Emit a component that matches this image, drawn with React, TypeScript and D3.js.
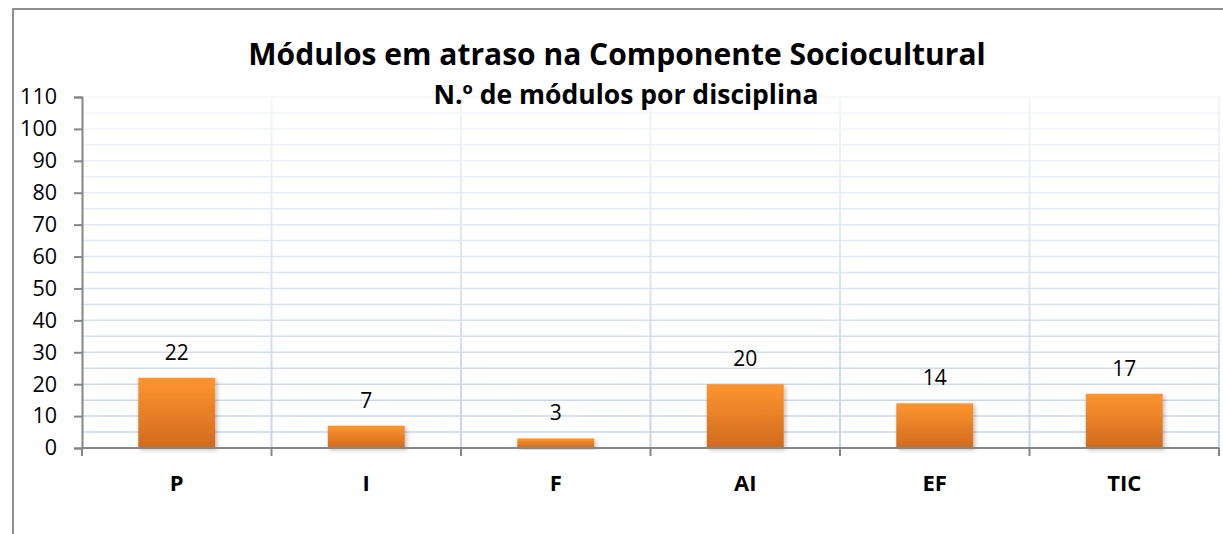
import * as d3 from "d3";
import React, { useEffect, useRef } from "react";

const categories = ["P", "I", "F", "AI", "EF", "TIC"];
const values = [22, 7, 3, 20, 14, 17];
const yTicks = [0, 10, 20, 30, 40, 50, 60, 70, 80, 90, 100, 110];
const minorTicks = [5, 15, 25, 35, 45, 55, 65, 75, 85, 95, 105];

const title = "Módulos em atraso na Componente Sociocultural";
const subtitle = "N.º de módulos por disciplina";

const width = 1223;
const height = 534;
const font = "'Open Sans', Lato, sans-serif";

const App = () => {
  const ref = useRef<HTMLDivElement>(null);

  useEffect(() => {
    const xScale = d3
      .scaleBand<string>()
      .domain(categories)
      .range([82, 1219])
      .paddingInner(0.594)
      .paddingOuter(0.297);
    const yScale = d3.scaleLinear().domain([0, 110]).range([448, 97]);
    const step = xScale.step();
    const left = 82;

    const svg = d3
      .create("svg")
      .attr("width", width)
      .attr("height", height)
      .attr("viewBox", `0 0 ${width} ${height}`)
      .style("position", "absolute")
      .style("left", "0px")
      .style("top", "0px")
      .style("background", "#fff");

    const defs = svg.append("defs");

    // gridlines fade out towards the top
    const gridGrad = defs
      .append("linearGradient")
      .attr("id", "gridGrad")
      .attr("gradientUnits", "userSpaceOnUse")
      .attr("x1", 0)
      .attr("y1", yScale(110))
      .attr("x2", 0)
      .attr("y2", yScale(0));
    gridGrad.append("stop").attr("offset", "0%").attr("stop-color", "#f3f6fb");
    gridGrad.append("stop").attr("offset", "100%").attr("stop-color", "#c4d4ea");

    const barGrad = defs
      .append("linearGradient")
      .attr("id", "barGrad")
      .attr("x1", 0)
      .attr("y1", 0)
      .attr("x2", 0)
      .attr("y2", 1);
    barGrad.append("stop").attr("offset", "0%").attr("stop-color", "#ff9530");
    barGrad.append("stop").attr("offset", "100%").attr("stop-color", "#d06a1e");

    const shadow = defs
      .append("filter")
      .attr("id", "barShadow")
      .attr("x", "-20%")
      .attr("y", "-20%")
      .attr("width", "140%")
      .attr("height", "140%");
    shadow
      .append("feDropShadow")
      .attr("dx", 2)
      .attr("dy", 2)
      .attr("stdDeviation", 2)
      .attr("flood-color", "#000")
      .attr("flood-opacity", 0.25);

    // outer frame
    svg
      .append("rect")
      .attr("x", 13)
      .attr("y", 9)
      .attr("width", 1225)
      .attr("height", 540)
      .attr("fill", "#fff")
      .attr("stroke", "#8e8e8e")
      .attr("stroke-width", 2);

    // horizontal gridlines (major + minor)
    svg
      .append("g")
      .selectAll("line")
      .data([...yTicks.slice(1), ...minorTicks])
      .join("line")
      .attr("x1", left)
      .attr("x2", 1219)
      .attr("y1", (d) => yScale(d))
      .attr("y2", (d) => yScale(d))
      .attr("stroke", "url(#gridGrad)")
      .attr("stroke-width", 1.5);

    // vertical gridlines between categories
    svg
      .append("g")
      .selectAll("line")
      .data(d3.range(1, categories.length + 1))
      .join("line")
      .attr("x1", (i) => left + i * step)
      .attr("x2", (i) => left + i * step + 0.01)
      .attr("y1", yScale(110))
      .attr("y2", yScale(0))
      .attr("stroke", "url(#gridGrad)")
      .attr("stroke-width", 2);

    // bars
    svg
      .append("g")
      .selectAll("rect")
      .data(values)
      .join("rect")
      .attr("x", (d, i) => xScale(categories[i])!)
      .attr("y", (d) => yScale(d))
      .attr("width", xScale.bandwidth())
      .attr("height", (d) => yScale(0) - yScale(d))
      .attr("fill", "url(#barGrad)")
      .attr("filter", "url(#barShadow)");

    // data labels
    svg
      .append("g")
      .selectAll("text")
      .data(values)
      .join("text")
      .attr("x", (d, i) => xScale(categories[i])! + xScale.bandwidth() / 2)
      .attr("y", (d) => yScale(d) - 18)
      .attr("text-anchor", "middle")
      .style("font-family", font)
      .style("font-size", "21px")
      .attr("fill", "#000")
      .text((d) => d);

    // y axis
    const yAxis = svg
      .append("g")
      .attr("transform", `translate(${left},0)`)
      .call(d3.axisLeft(yScale).tickValues(yTicks).tickSize(8).tickPadding(17).tickSizeOuter(8));
    yAxis.select(".domain").attr("stroke", "#868686").attr("stroke-width", 2);
    yAxis.selectAll(".tick line").attr("stroke", "#868686").attr("stroke-width", 2);
    yAxis
      .selectAll(".tick text")
      .style("font-family", font)
      .style("font-size", "21.5px")
      .attr("fill", "#000");

    // x axis
    svg
      .append("line")
      .attr("x1", left)
      .attr("x2", 1219)
      .attr("y1", yScale(0))
      .attr("y2", yScale(0))
      .attr("stroke", "#868686")
      .attr("stroke-width", 2);
    svg
      .append("g")
      .selectAll("line")
      .data(d3.range(0, categories.length + 1))
      .join("line")
      .attr("x1", (i) => left + i * step)
      .attr("x2", (i) => left + i * step)
      .attr("y1", yScale(0))
      .attr("y2", yScale(0) + 8)
      .attr("stroke", "#868686")
      .attr("stroke-width", 2);

    svg
      .append("g")
      .selectAll("text")
      .data(categories)
      .join("text")
      .attr("x", (d) => xScale(d)! + xScale.bandwidth() / 2)
      .attr("y", 491)
      .attr("text-anchor", "middle")
      .style("font-family", font)
      .style("font-size", "22px")
      .style("font-weight", "bold")
      .attr("fill", "#000")
      .text((d) => d);

    // titles
    svg
      .append("text")
      .attr("x", 617)
      .attr("y", 65)
      .attr("text-anchor", "middle")
      .style("font-family", font)
      .style("font-size", "30px")
      .style("font-weight", "bold")
      .attr("fill", "#000")
      .text(title);

    svg
      .append("text")
      .attr("x", 626)
      .attr("y", 104)
      .attr("text-anchor", "middle")
      .style("font-family", font)
      .style("font-size", "26.5px")
      .style("font-weight", "bold")
      .attr("fill", "#000")
      .text(subtitle);

    if (ref.current) {
      ref.current.innerHTML = "";
      ref.current.appendChild(svg.node()!);
    }
  }, []);

  return <div ref={ref}></div>;
};

export default App;
